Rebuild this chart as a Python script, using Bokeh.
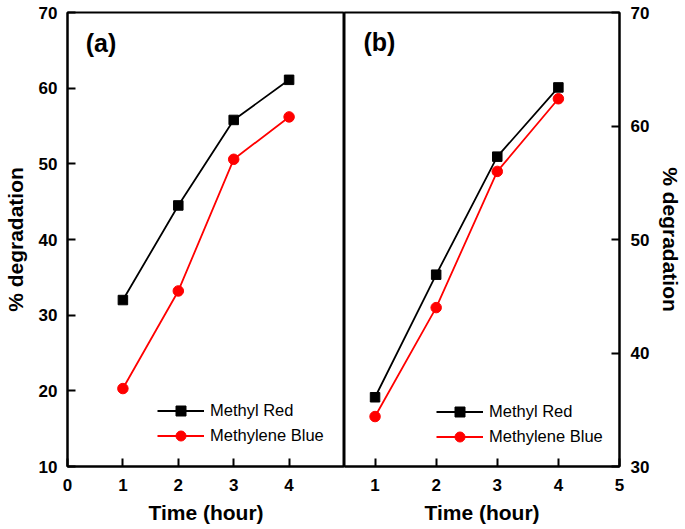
from bokeh.plotting import figure
from bokeh.layouts import row
from bokeh.models import Legend, LegendItem, Label, FixedTicker
from bokeh.embed import file_html
from bokeh.resources import INLINE

# ---- data ----
time_a = [1, 2, 3, 4]
methyl_red_a = [32.0, 44.5, 55.8, 61.1]
methylene_blue_a = [20.3, 33.2, 50.6, 56.2]

time_b = [1, 2, 3, 4]
methyl_red_b = [36.1, 46.9, 57.3, 63.4]
methylene_blue_b = [34.4, 44.0, 56.0, 62.4]

xticks_a = [0, 1, 2, 3, 4]
yticks_a = [10, 20, 30, 40, 50, 60, 70]
xticks_b = [1, 2, 3, 4, 5]
yticks_b = [30, 40, 50, 60, 70]

series_names = ["Methyl Red", "Methylene Blue"]
series_colors = ["black", "red"]
x_label = "Time (hour)"
y_label = "% degradation"
panel_labels = ["(a)", "(b)"]

FONT = "Liberation Sans"


def style(p):
    p.outline_line_color = "black"
    p.outline_line_width = 2
    p.outline_line_alpha = 1
    p.grid.visible = False
    for ax in p.axis:
        ax.axis_line_width = 2
        ax.axis_line_color = "black"
        ax.major_tick_in = 8
        ax.major_tick_out = 0
        ax.major_tick_line_width = 2
        ax.major_tick_line_color = "black"
        ax.minor_tick_in = 0
        ax.minor_tick_out = 0
        ax.major_label_text_font = FONT
        ax.major_label_text_font_size = "17px"
        ax.major_label_text_font_style = "bold"
        ax.major_label_text_color = "black"
        ax.axis_label_text_font = FONT
        ax.axis_label_text_font_size = "21px"
        ax.axis_label_text_font_style = "bold"
        ax.axis_label_text_color = "black"


def add_series(p, x, mr, mb, loc):
    l1 = p.line(x, mr, line_color=series_colors[0], line_width=1.8)
    s1 = p.scatter(x, mr, marker="square", size=9.5, color=series_colors[0])
    l2 = p.line(x, mb, line_color=series_colors[1], line_width=1.8)
    s2 = p.scatter(x, mb, marker="circle", size=10.5, color=series_colors[1])
    legend = Legend(
        items=[LegendItem(label=series_names[0], renderers=[l1, s1]),
               LegendItem(label=series_names[1], renderers=[l2, s2])],
        location=loc,
        border_line_color=None,
        background_fill_alpha=0,
        padding=0, margin=0, spacing=0,
        glyph_width=47, glyph_height=25, label_height=25,
        label_standoff=6,
        label_text_font=FONT, label_text_font_size="16.5px",
        label_text_color="black",
    )
    p.add_layout(legend)


# ---- panel (a) ----
pa = figure(width=344, height=529, x_range=(0, 5), y_range=(10, 70),
            output_backend="svg", toolbar_location=None,
            min_border_left=67, min_border_right=0,
            min_border_top=12, min_border_bottom=63)
style(pa)
pa.xaxis.ticker = FixedTicker(ticks=xticks_a)
pa.yaxis.ticker = FixedTicker(ticks=yticks_a)
pa.xaxis.axis_label = x_label
pa.yaxis.axis_label = y_label
pa.xaxis.major_label_standoff = 12
pa.yaxis.major_label_standoff = 10
pa.xaxis.axis_label_standoff = 7
pa.yaxis.axis_label_standoff = 9
add_series(pa, time_a, methyl_red_a, methylene_blue_a, (90, 18))
pa.add_layout(Label(x=0.33, y=66.0, text=panel_labels[0], text_font=FONT,
                    text_font_size="25px", text_font_style="bold",
                    text_baseline="middle", text_align="left", text_color="black"))

# ---- panel (b) ----
pb = figure(width=341, height=529, x_range=(0.5, 5), y_range=(30, 70),
            y_axis_location="right",
            output_backend="svg", toolbar_location=None,
            min_border_left=0, min_border_right=66,
            min_border_top=12, min_border_bottom=63)
style(pb)
pb.xaxis.ticker = FixedTicker(ticks=xticks_b)
pb.yaxis.ticker = FixedTicker(ticks=yticks_b)
pb.xaxis.axis_label = x_label
pb.yaxis.axis_label = y_label
pb.xaxis.major_label_standoff = 12
pb.yaxis.major_label_standoff = 11
pb.xaxis.axis_label_standoff = 7
pb.yaxis.axis_label_standoff = 7
add_series(pb, time_b, methyl_red_b, methylene_blue_b, (92, 17))
pb.add_layout(Label(x=0.81, y=67.4, text=panel_labels[1], text_font=FONT,
                    text_font_size="25px", text_font_style="bold",
                    text_baseline="middle", text_align="left", text_color="black"))

layout = row(pa, pb)
open("out.html", "w").write(file_html(layout, INLINE))
